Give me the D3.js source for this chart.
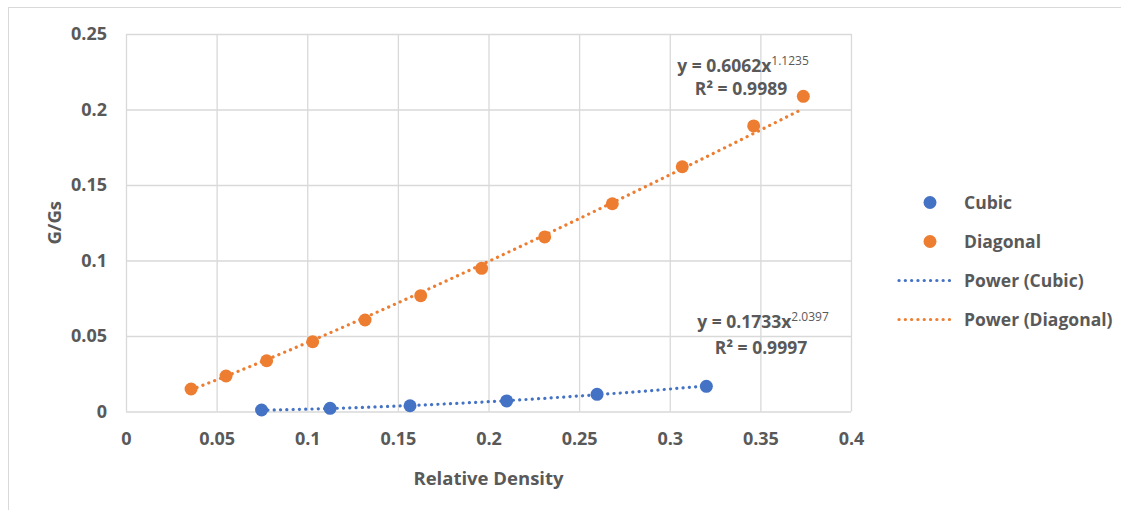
<!DOCTYPE html>
<html>
<head>
<meta charset="utf-8">
<script src="https://cdn.jsdelivr.net/npm/d3@7"></script>
<style>
  body { margin: 0; background: #fff; }
  svg text { font-family: "Open Sans", sans-serif; font-weight: bold; fill: #595959; }
</style>
</head>
<body>
<svg id="svg1" width="1121" height="510"></svg>
<script>
// data
var cubicX = [0.0748, 0.1126, 0.1567, 0.2100, 0.2599, 0.3202];
var cubicY = [0.0010, 0.0021, 0.0038, 0.0070, 0.0114, 0.0167];
var diagX = [0.0359, 0.0552, 0.0776, 0.1030, 0.1319, 0.1626, 0.1962, 0.2310, 0.2683, 0.3069, 0.3463, 0.3737];
var diagY = [0.0149, 0.0235, 0.0336, 0.0462, 0.0606, 0.0767, 0.0948, 0.1156, 0.1376, 0.1621, 0.1891, 0.2087];

// power trendline coefficients y = a * x^b (from the labels)
var fitA = [0.1733, 0.6062];
var fitB = [2.0397, 1.1235];
var fitR2 = ["0.9997", "0.9989"];

var xTicks = [0, 0.05, 0.1, 0.15, 0.2, 0.25, 0.3, 0.35, 0.4];
var yTicks = [0, 0.05, 0.1, 0.15, 0.2, 0.25];
var xTickLabels = ["0", "0.05", "0.1", "0.15", "0.2", "0.25", "0.3", "0.35", "0.4"];
var yTickLabels = ["0", "0.05", "0.1", "0.15", "0.2", "0.25"];

var seriesNames = ["Cubic", "Diagonal"];
var legendNames = ["Cubic", "Diagonal", "Power (Cubic)", "Power (Diagonal)"];
var colors = ["#4472C4", "#ED7D31"];

var params = {
  "plot": { "x": 126, "y": 34, "width": 725, "height": 377.5 },
  "font": 17.5
};

var svg = d3.select("#svg1");

// outer chart frame (clipped on right and bottom like the source)
svg.append("rect")
  .attr("x", 8.5).attr("y", 7.5)
  .attr("width", 1300).attr("height", 700)
  .attr("fill", "#fff")
  .attr("stroke", "#d9d9d9");

var scale = {
  "x": d3.scaleLinear().domain([0, 0.4]).range([params.plot.x, params.plot.x + params.plot.width]),
  "y": d3.scaleLinear().domain([0, 0.25]).range([params.plot.y + params.plot.height, params.plot.y])
};

var axis = {
  "x": d3.axisBottom(scale.x).tickValues(xTicks)
    .tickFormat(function(d, i) { return xTickLabels[i]; })
    .tickSizeInner(-params.plot.height).tickSizeOuter(0).tickPadding(21),
  "y": d3.axisLeft(scale.y).tickValues(yTicks)
    .tickFormat(function(d, i) { return yTickLabels[i]; })
    .tickSizeInner(-params.plot.width).tickSizeOuter(0).tickPadding(19)
};

var gx = svg.append("g")
  .attr("transform", "translate(0," + (params.plot.y + params.plot.height) + ")")
  .call(axis.x);
var gy = svg.append("g")
  .attr("transform", "translate(" + params.plot.x + ",0)")
  .call(axis.y);

[gx, gy].forEach(function(g) {
  g.select(".domain").remove();
  g.selectAll(".tick line").attr("stroke", "#d9d9d9").attr("stroke-width", 1.3);
  g.selectAll(".tick text")
    .attr("font-size", 18)
    .attr("font-family", null)
    .attr("fill", "#595959");
});

// axis titles
svg.append("text")
  .attr("x", params.plot.x + params.plot.width / 2)
  .attr("y", 485)
  .attr("text-anchor", "middle")
  .attr("font-size", 18.5)
  .text("Relative Density");

svg.append("text")
  .attr("transform", "translate(54," + (params.plot.y + params.plot.height / 2) + ") rotate(-90)")
  .attr("text-anchor", "middle")
  .attr("dy", "0.36em")
  .attr("font-size", 18.5)
  .text("G/Gs");

// trendlines
var xs = [cubicX, diagX];
var ys = [cubicY, diagY];
var line = d3.line()
  .x(function(d) { return scale.x(d[0]); })
  .y(function(d) { return scale.y(d[1]); });

for (let s = 0; s < 2; s++) {
  let x0 = d3.min(xs[s]), x1 = d3.max(xs[s]);
  let pts = d3.range(0, 101).map(function(i) {
    let x = x0 + (x1 - x0) * i / 100;
    return [x, fitA[s] * Math.pow(x, fitB[s])];
  });
  svg.append("path")
    .datum(pts)
    .attr("d", line)
    .attr("fill", "none")
    .attr("stroke", colors[s])
    .attr("stroke-width", 3.2)
    .attr("stroke-linecap", "round")
    .attr("stroke-dasharray", "0.1 6.2");
}

// markers
for (let s = 0; s < 2; s++) {
  svg.append("g").selectAll("circle")
    .data(d3.zip(xs[s], ys[s]))
    .enter()
    .append("circle")
    .attr("cx", function(d) { return scale.x(d[0]); })
    .attr("cy", function(d) { return scale.y(d[1]); })
    .attr("r", 6.5)
    .attr("fill", colors[s]);
}

// trendline equation labels
var eqPos = [[763, 328], [743, 71.5]];
var eqGap = [26, 23.5];
for (let s = 0; s < 2; s++) {
  let t = svg.append("text")
    .attr("x", eqPos[s][0]).attr("y", eqPos[s][1])
    .attr("text-anchor", "middle")
    .attr("font-size", params.font);
  t.append("tspan").text("y = " + fitA[s].toFixed(4) + "x");
  t.append("tspan").attr("dy", -7).attr("font-size", 12).attr("font-weight", "normal").text(fitB[s].toFixed(4));
  svg.append("text")
    .attr("x", eqPos[s][0] - 2).attr("y", eqPos[s][1] + eqGap[s])
    .attr("text-anchor", "middle")
    .attr("font-size", params.font)
    .text("R\u00B2 = " + fitR2[s]);
}

// legend
var legendY = d3.scaleLinear().domain([0, 1]).range([202.5, 241.5]);
var lg = svg.append("g");
legendNames.forEach(function(name, i) {
  let y = legendY(i);
  let c = colors[i % 2];
  if (i < 2) {
    lg.append("circle").attr("cx", 930).attr("cy", y).attr("r", 6.5).attr("fill", c);
  } else {
    lg.append("line")
      .attr("x1", 899).attr("x2", 951).attr("y1", y).attr("y2", y)
      .attr("stroke", c).attr("stroke-width", 3.2)
      .attr("stroke-linecap", "round").attr("stroke-dasharray", "0.1 6.2");
  }
  lg.append("text")
    .attr("x", 964).attr("y", y).attr("dy", "0.36em")
    .attr("font-size", 17.5)
    .text(name);
});
</script>
</body>
</html>
